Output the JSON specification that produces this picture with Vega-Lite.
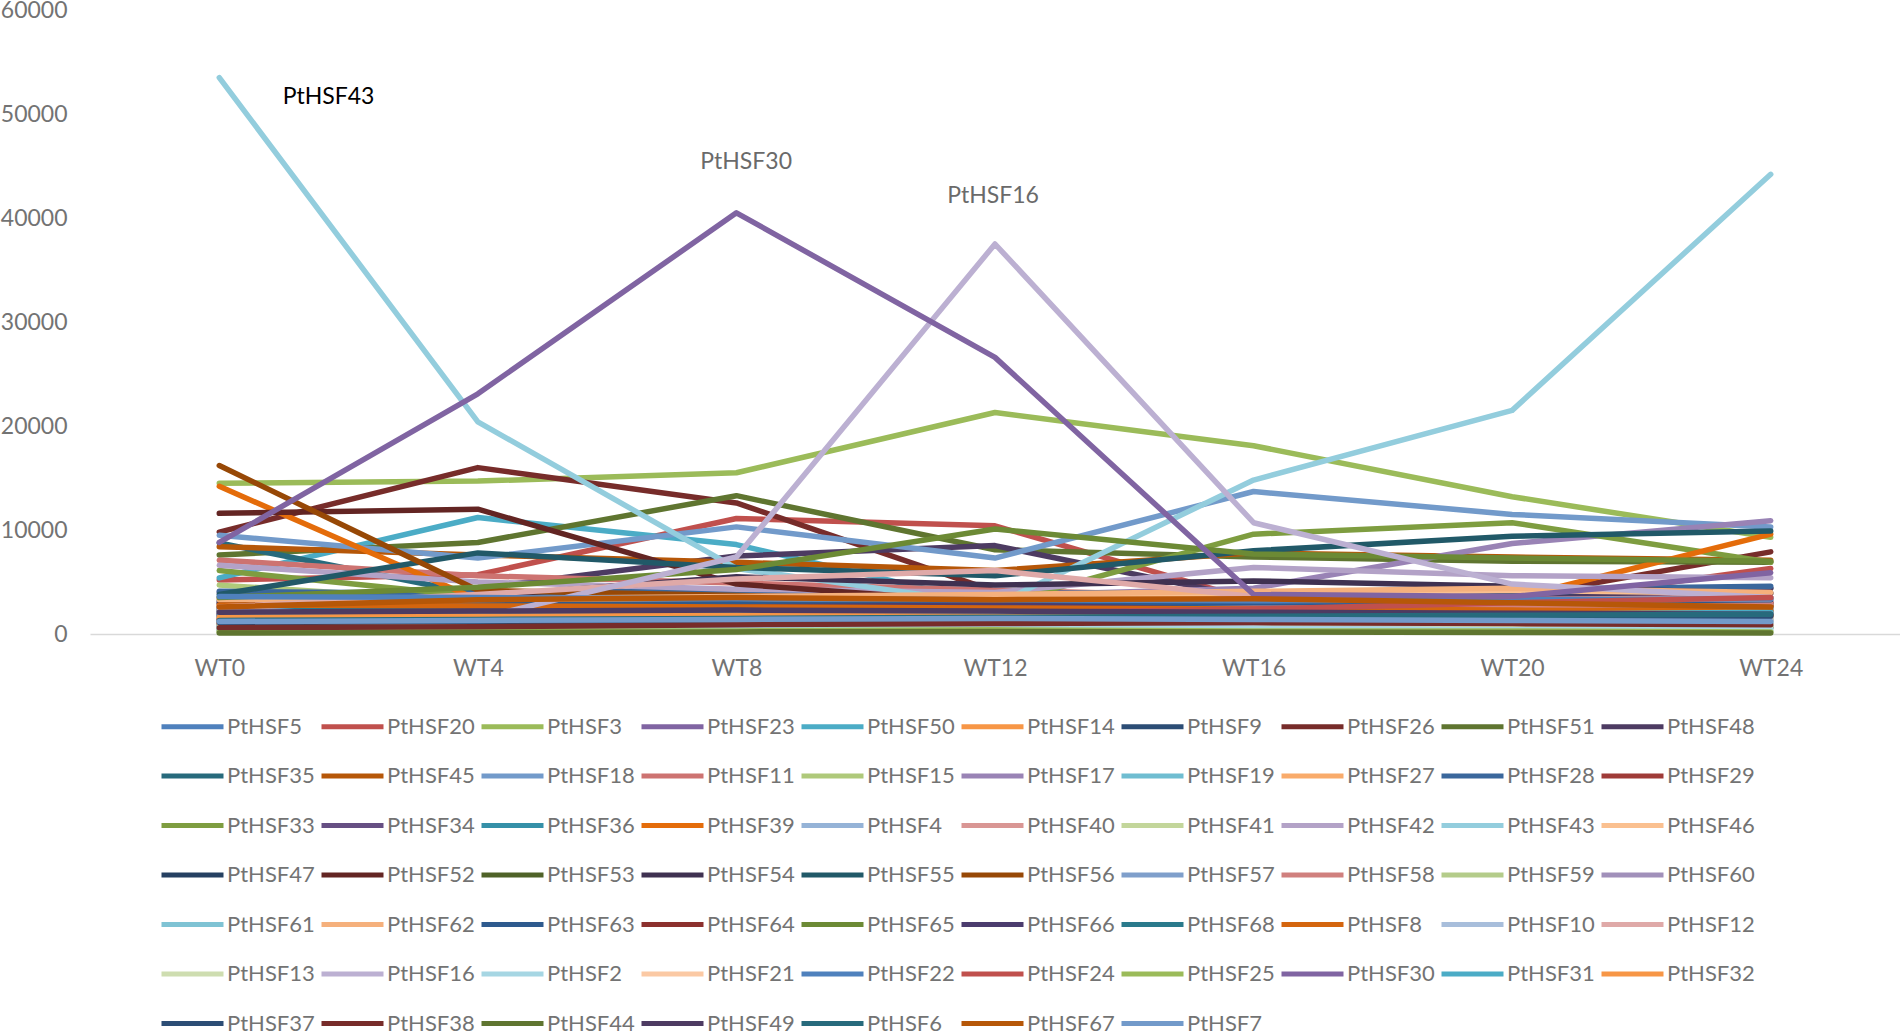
{
"$schema": "https://vega.github.io/schema/vega-lite/v6.json",
"width": 1810,
"height": 624,
"autosize": {"type": "none"},
"padding": {"left": 90, "top": 10, "right": 0, "bottom": 399},
"background": "white",
"config": {"view": {"stroke": null}, "font": "Lato"},
"datasets": {
"series": [
{"s":"PtHSF5","h":0,"v":2500},{"s":"PtHSF5","h":4,"v":2200},{"s":"PtHSF5","h":8,"v":2000},{"s":"PtHSF5","h":12,"v":1800},{"s":"PtHSF5","h":16,"v":1900},{"s":"PtHSF5","h":20,"v":2000},{"s":"PtHSF5","h":24,"v":2100},
{"s":"PtHSF20","h":0,"v":5200},{"s":"PtHSF20","h":4,"v":5700},{"s":"PtHSF20","h":8,"v":11100},{"s":"PtHSF20","h":12,"v":10400},{"s":"PtHSF20","h":16,"v":3200},{"s":"PtHSF20","h":20,"v":2900},{"s":"PtHSF20","h":24,"v":6300},
{"s":"PtHSF3","h":0,"v":14500},{"s":"PtHSF3","h":4,"v":14700},{"s":"PtHSF3","h":8,"v":15500},{"s":"PtHSF3","h":12,"v":21300},{"s":"PtHSF3","h":16,"v":18100},{"s":"PtHSF3","h":20,"v":13200},{"s":"PtHSF3","h":24,"v":9300},
{"s":"PtHSF23","h":0,"v":900},{"s":"PtHSF23","h":4,"v":1100},{"s":"PtHSF23","h":8,"v":1300},{"s":"PtHSF23","h":12,"v":1500},{"s":"PtHSF23","h":16,"v":1800},{"s":"PtHSF23","h":20,"v":2300},{"s":"PtHSF23","h":24,"v":3000},
{"s":"PtHSF50","h":0,"v":5400},{"s":"PtHSF50","h":4,"v":11200},{"s":"PtHSF50","h":8,"v":8600},{"s":"PtHSF50","h":12,"v":2800},{"s":"PtHSF50","h":16,"v":2500},{"s":"PtHSF50","h":20,"v":2400},{"s":"PtHSF50","h":24,"v":4000},
{"s":"PtHSF14","h":0,"v":1000},{"s":"PtHSF14","h":4,"v":1100},{"s":"PtHSF14","h":8,"v":1300},{"s":"PtHSF14","h":12,"v":1200},{"s":"PtHSF14","h":16,"v":1300},{"s":"PtHSF14","h":20,"v":1500},{"s":"PtHSF14","h":24,"v":1600},
{"s":"PtHSF9","h":0,"v":3200},{"s":"PtHSF9","h":4,"v":3300},{"s":"PtHSF9","h":8,"v":3500},{"s":"PtHSF9","h":12,"v":3300},{"s":"PtHSF9","h":16,"v":3600},{"s":"PtHSF9","h":20,"v":3700},{"s":"PtHSF9","h":24,"v":4400},
{"s":"PtHSF26","h":0,"v":9800},{"s":"PtHSF26","h":4,"v":16000},{"s":"PtHSF26","h":8,"v":12600},{"s":"PtHSF26","h":12,"v":4100},{"s":"PtHSF26","h":16,"v":3400},{"s":"PtHSF26","h":20,"v":3500},{"s":"PtHSF26","h":24,"v":7900},
{"s":"PtHSF51","h":0,"v":7600},{"s":"PtHSF51","h":4,"v":8800},{"s":"PtHSF51","h":8,"v":13300},{"s":"PtHSF51","h":12,"v":8100},{"s":"PtHSF51","h":16,"v":7400},{"s":"PtHSF51","h":20,"v":7000},{"s":"PtHSF51","h":24,"v":6900},
{"s":"PtHSF48","h":0,"v":1700},{"s":"PtHSF48","h":4,"v":4400},{"s":"PtHSF48","h":8,"v":7500},{"s":"PtHSF48","h":12,"v":8500},{"s":"PtHSF48","h":16,"v":3400},{"s":"PtHSF48","h":20,"v":3300},{"s":"PtHSF48","h":24,"v":4400},
{"s":"PtHSF35","h":0,"v":8750},{"s":"PtHSF35","h":4,"v":3800},{"s":"PtHSF35","h":8,"v":3500},{"s":"PtHSF35","h":12,"v":3200},{"s":"PtHSF35","h":16,"v":3100},{"s":"PtHSF35","h":20,"v":3000},{"s":"PtHSF35","h":24,"v":2900},
{"s":"PtHSF45","h":0,"v":8400},{"s":"PtHSF45","h":4,"v":7600},{"s":"PtHSF45","h":8,"v":6900},{"s":"PtHSF45","h":12,"v":6100},{"s":"PtHSF45","h":16,"v":7800},{"s":"PtHSF45","h":20,"v":7400},{"s":"PtHSF45","h":24,"v":7100},
{"s":"PtHSF18","h":0,"v":9500},{"s":"PtHSF18","h":4,"v":7300},{"s":"PtHSF18","h":8,"v":10300},{"s":"PtHSF18","h":12,"v":7300},{"s":"PtHSF18","h":16,"v":13700},{"s":"PtHSF18","h":20,"v":11500},{"s":"PtHSF18","h":24,"v":10300},
{"s":"PtHSF11","h":0,"v":7100},{"s":"PtHSF11","h":4,"v":5600},{"s":"PtHSF11","h":8,"v":4900},{"s":"PtHSF11","h":12,"v":4200},{"s":"PtHSF11","h":16,"v":3600},{"s":"PtHSF11","h":20,"v":3300},{"s":"PtHSF11","h":24,"v":3100},
{"s":"PtHSF15","h":0,"v":4700},{"s":"PtHSF15","h":4,"v":3100},{"s":"PtHSF15","h":8,"v":2600},{"s":"PtHSF15","h":12,"v":2300},{"s":"PtHSF15","h":16,"v":2000},{"s":"PtHSF15","h":20,"v":1800},{"s":"PtHSF15","h":24,"v":1700},
{"s":"PtHSF17","h":0,"v":4000},{"s":"PtHSF17","h":4,"v":3500},{"s":"PtHSF17","h":8,"v":4100},{"s":"PtHSF17","h":12,"v":3700},{"s":"PtHSF17","h":16,"v":4400},{"s":"PtHSF17","h":20,"v":8700},{"s":"PtHSF17","h":24,"v":10900},
{"s":"PtHSF19","h":0,"v":2000},{"s":"PtHSF19","h":4,"v":1800},{"s":"PtHSF19","h":8,"v":1900},{"s":"PtHSF19","h":12,"v":2100},{"s":"PtHSF19","h":16,"v":2200},{"s":"PtHSF19","h":20,"v":2100},{"s":"PtHSF19","h":24,"v":2000},
{"s":"PtHSF27","h":0,"v":2300},{"s":"PtHSF27","h":4,"v":2500},{"s":"PtHSF27","h":8,"v":2700},{"s":"PtHSF27","h":12,"v":2600},{"s":"PtHSF27","h":16,"v":2900},{"s":"PtHSF27","h":20,"v":3000},{"s":"PtHSF27","h":24,"v":2800},
{"s":"PtHSF28","h":0,"v":4100},{"s":"PtHSF28","h":4,"v":3900},{"s":"PtHSF28","h":8,"v":4200},{"s":"PtHSF28","h":12,"v":3900},{"s":"PtHSF28","h":16,"v":4000},{"s":"PtHSF28","h":20,"v":4300},{"s":"PtHSF28","h":24,"v":4600},
{"s":"PtHSF29","h":0,"v":1500},{"s":"PtHSF29","h":4,"v":1700},{"s":"PtHSF29","h":8,"v":1900},{"s":"PtHSF29","h":12,"v":2000},{"s":"PtHSF29","h":16,"v":2200},{"s":"PtHSF29","h":20,"v":2500},{"s":"PtHSF29","h":24,"v":3000},
{"s":"PtHSF33","h":0,"v":6100},{"s":"PtHSF33","h":4,"v":3600},{"s":"PtHSF33","h":8,"v":3000},{"s":"PtHSF33","h":12,"v":2800},{"s":"PtHSF33","h":16,"v":9600},{"s":"PtHSF33","h":20,"v":10700},{"s":"PtHSF33","h":24,"v":6900},
{"s":"PtHSF34","h":0,"v":2900},{"s":"PtHSF34","h":4,"v":3100},{"s":"PtHSF34","h":8,"v":3200},{"s":"PtHSF34","h":12,"v":3000},{"s":"PtHSF34","h":16,"v":3100},{"s":"PtHSF34","h":20,"v":3300},{"s":"PtHSF34","h":24,"v":3500},
{"s":"PtHSF36","h":0,"v":800},{"s":"PtHSF36","h":4,"v":900},{"s":"PtHSF36","h":8,"v":1000},{"s":"PtHSF36","h":12,"v":1100},{"s":"PtHSF36","h":16,"v":1200},{"s":"PtHSF36","h":20,"v":1300},{"s":"PtHSF36","h":24,"v":1400},
{"s":"PtHSF39","h":0,"v":14200},{"s":"PtHSF39","h":4,"v":3300},{"s":"PtHSF39","h":8,"v":3200},{"s":"PtHSF39","h":12,"v":3000},{"s":"PtHSF39","h":16,"v":3100},{"s":"PtHSF39","h":20,"v":3400},{"s":"PtHSF39","h":24,"v":9600},
{"s":"PtHSF4","h":0,"v":1800},{"s":"PtHSF4","h":4,"v":1600},{"s":"PtHSF4","h":8,"v":1500},{"s":"PtHSF4","h":12,"v":1400},{"s":"PtHSF4","h":16,"v":1300},{"s":"PtHSF4","h":20,"v":1200},{"s":"PtHSF4","h":24,"v":1100},
{"s":"PtHSF40","h":0,"v":3500},{"s":"PtHSF40","h":4,"v":3300},{"s":"PtHSF40","h":8,"v":3000},{"s":"PtHSF40","h":12,"v":2700},{"s":"PtHSF40","h":16,"v":2900},{"s":"PtHSF40","h":20,"v":3300},{"s":"PtHSF40","h":24,"v":3500},
{"s":"PtHSF41","h":0,"v":600},{"s":"PtHSF41","h":4,"v":700},{"s":"PtHSF41","h":8,"v":800},{"s":"PtHSF41","h":12,"v":900},{"s":"PtHSF41","h":16,"v":900},{"s":"PtHSF41","h":20,"v":800},{"s":"PtHSF41","h":24,"v":700},
{"s":"PtHSF42","h":0,"v":6600},{"s":"PtHSF42","h":4,"v":5000},{"s":"PtHSF42","h":8,"v":4300},{"s":"PtHSF42","h":12,"v":4000},{"s":"PtHSF42","h":16,"v":6400},{"s":"PtHSF42","h":20,"v":5600},{"s":"PtHSF42","h":24,"v":5400},
{"s":"PtHSF43","h":0,"v":53500},{"s":"PtHSF43","h":4,"v":20400},{"s":"PtHSF43","h":8,"v":6300},{"s":"PtHSF43","h":12,"v":2800},{"s":"PtHSF43","h":16,"v":14800},{"s":"PtHSF43","h":20,"v":21500},{"s":"PtHSF43","h":24,"v":44200},
{"s":"PtHSF46","h":0,"v":2700},{"s":"PtHSF46","h":4,"v":3000},{"s":"PtHSF46","h":8,"v":3200},{"s":"PtHSF46","h":12,"v":3500},{"s":"PtHSF46","h":16,"v":3800},{"s":"PtHSF46","h":20,"v":4200},{"s":"PtHSF46","h":24,"v":3900},
{"s":"PtHSF47","h":0,"v":2200},{"s":"PtHSF47","h":4,"v":2400},{"s":"PtHSF47","h":8,"v":2600},{"s":"PtHSF47","h":12,"v":2500},{"s":"PtHSF47","h":16,"v":2400},{"s":"PtHSF47","h":20,"v":2300},{"s":"PtHSF47","h":24,"v":2500},
{"s":"PtHSF52","h":0,"v":11600},{"s":"PtHSF52","h":4,"v":12000},{"s":"PtHSF52","h":8,"v":4800},{"s":"PtHSF52","h":12,"v":3000},{"s":"PtHSF52","h":16,"v":2800},{"s":"PtHSF52","h":20,"v":2600},{"s":"PtHSF52","h":24,"v":2700},
{"s":"PtHSF53","h":0,"v":400},{"s":"PtHSF53","h":4,"v":500},{"s":"PtHSF53","h":8,"v":600},{"s":"PtHSF53","h":12,"v":700},{"s":"PtHSF53","h":16,"v":800},{"s":"PtHSF53","h":20,"v":700},{"s":"PtHSF53","h":24,"v":600},
{"s":"PtHSF54","h":0,"v":3000},{"s":"PtHSF54","h":4,"v":3600},{"s":"PtHSF54","h":8,"v":5500},{"s":"PtHSF54","h":12,"v":4700},{"s":"PtHSF54","h":16,"v":5100},{"s":"PtHSF54","h":20,"v":4600},{"s":"PtHSF54","h":24,"v":3900},
{"s":"PtHSF55","h":0,"v":3800},{"s":"PtHSF55","h":4,"v":7800},{"s":"PtHSF55","h":8,"v":6400},{"s":"PtHSF55","h":12,"v":5600},{"s":"PtHSF55","h":16,"v":8000},{"s":"PtHSF55","h":20,"v":9400},{"s":"PtHSF55","h":24,"v":9900},
{"s":"PtHSF56","h":0,"v":16200},{"s":"PtHSF56","h":4,"v":4200},{"s":"PtHSF56","h":8,"v":3700},{"s":"PtHSF56","h":12,"v":3200},{"s":"PtHSF56","h":16,"v":3000},{"s":"PtHSF56","h":20,"v":2800},{"s":"PtHSF56","h":24,"v":2700},
{"s":"PtHSF57","h":0,"v":1300},{"s":"PtHSF57","h":4,"v":1200},{"s":"PtHSF57","h":8,"v":1100},{"s":"PtHSF57","h":12,"v":1000},{"s":"PtHSF57","h":16,"v":1100},{"s":"PtHSF57","h":20,"v":1200},{"s":"PtHSF57","h":24,"v":1300},
{"s":"PtHSF58","h":0,"v":1900},{"s":"PtHSF58","h":4,"v":2100},{"s":"PtHSF58","h":8,"v":2300},{"s":"PtHSF58","h":12,"v":2400},{"s":"PtHSF58","h":16,"v":2600},{"s":"PtHSF58","h":20,"v":2700},{"s":"PtHSF58","h":24,"v":2900},
{"s":"PtHSF59","h":0,"v":300},{"s":"PtHSF59","h":4,"v":300},{"s":"PtHSF59","h":8,"v":400},{"s":"PtHSF59","h":12,"v":400},{"s":"PtHSF59","h":16,"v":400},{"s":"PtHSF59","h":20,"v":300},{"s":"PtHSF59","h":24,"v":300},
{"s":"PtHSF60","h":0,"v":1600},{"s":"PtHSF60","h":4,"v":1400},{"s":"PtHSF60","h":8,"v":1500},{"s":"PtHSF60","h":12,"v":1700},{"s":"PtHSF60","h":16,"v":1900},{"s":"PtHSF60","h":20,"v":2000},{"s":"PtHSF60","h":24,"v":2200},
{"s":"PtHSF61","h":0,"v":700},{"s":"PtHSF61","h":4,"v":800},{"s":"PtHSF61","h":8,"v":900},{"s":"PtHSF61","h":12,"v":800},{"s":"PtHSF61","h":16,"v":900},{"s":"PtHSF61","h":20,"v":1000},{"s":"PtHSF61","h":24,"v":1100},
{"s":"PtHSF62","h":0,"v":3300},{"s":"PtHSF62","h":4,"v":3400},{"s":"PtHSF62","h":8,"v":3600},{"s":"PtHSF62","h":12,"v":3800},{"s":"PtHSF62","h":16,"v":4100},{"s":"PtHSF62","h":20,"v":4400},{"s":"PtHSF62","h":24,"v":4000},
{"s":"PtHSF63","h":0,"v":2600},{"s":"PtHSF63","h":4,"v":2800},{"s":"PtHSF63","h":8,"v":2900},{"s":"PtHSF63","h":12,"v":2800},{"s":"PtHSF63","h":16,"v":3000},{"s":"PtHSF63","h":20,"v":3100},{"s":"PtHSF63","h":24,"v":3300},
{"s":"PtHSF64","h":0,"v":1000},{"s":"PtHSF64","h":4,"v":1200},{"s":"PtHSF64","h":8,"v":1400},{"s":"PtHSF64","h":12,"v":1300},{"s":"PtHSF64","h":16,"v":1500},{"s":"PtHSF64","h":20,"v":1600},{"s":"PtHSF64","h":24,"v":1800},
{"s":"PtHSF65","h":0,"v":3500},{"s":"PtHSF65","h":4,"v":4500},{"s":"PtHSF65","h":8,"v":6200},{"s":"PtHSF65","h":12,"v":10100},{"s":"PtHSF65","h":16,"v":7700},{"s":"PtHSF65","h":20,"v":7300},{"s":"PtHSF65","h":24,"v":7000},
{"s":"PtHSF66","h":0,"v":1900},{"s":"PtHSF66","h":4,"v":2300},{"s":"PtHSF66","h":8,"v":2600},{"s":"PtHSF66","h":12,"v":2800},{"s":"PtHSF66","h":16,"v":2300},{"s":"PtHSF66","h":20,"v":2000},{"s":"PtHSF66","h":24,"v":1800},
{"s":"PtHSF68","h":0,"v":2400},{"s":"PtHSF68","h":4,"v":2300},{"s":"PtHSF68","h":8,"v":2200},{"s":"PtHSF68","h":12,"v":2100},{"s":"PtHSF68","h":16,"v":2000},{"s":"PtHSF68","h":20,"v":2100},{"s":"PtHSF68","h":24,"v":2300},
{"s":"PtHSF8","h":0,"v":2800},{"s":"PtHSF8","h":4,"v":2700},{"s":"PtHSF8","h":8,"v":2600},{"s":"PtHSF8","h":12,"v":2500},{"s":"PtHSF8","h":16,"v":2400},{"s":"PtHSF8","h":20,"v":2300},{"s":"PtHSF8","h":24,"v":2200},
{"s":"PtHSF10","h":0,"v":500},{"s":"PtHSF10","h":4,"v":600},{"s":"PtHSF10","h":8,"v":700},{"s":"PtHSF10","h":12,"v":800},{"s":"PtHSF10","h":16,"v":900},{"s":"PtHSF10","h":20,"v":800},{"s":"PtHSF10","h":24,"v":700},
{"s":"PtHSF12","h":0,"v":2600},{"s":"PtHSF12","h":4,"v":3800},{"s":"PtHSF12","h":8,"v":5300},{"s":"PtHSF12","h":12,"v":6100},{"s":"PtHSF12","h":16,"v":3600},{"s":"PtHSF12","h":20,"v":3200},{"s":"PtHSF12","h":24,"v":3400},
{"s":"PtHSF13","h":0,"v":900},{"s":"PtHSF13","h":4,"v":1000},{"s":"PtHSF13","h":8,"v":1200},{"s":"PtHSF13","h":12,"v":1300},{"s":"PtHSF13","h":16,"v":1100},{"s":"PtHSF13","h":20,"v":900},{"s":"PtHSF13","h":24,"v":800},
{"s":"PtHSF16","h":0,"v":2400},{"s":"PtHSF16","h":4,"v":1500},{"s":"PtHSF16","h":8,"v":7400},{"s":"PtHSF16","h":12,"v":37500},{"s":"PtHSF16","h":16,"v":10700},{"s":"PtHSF16","h":20,"v":4800},{"s":"PtHSF16","h":24,"v":3500},
{"s":"PtHSF2","h":0,"v":400},{"s":"PtHSF2","h":4,"v":400},{"s":"PtHSF2","h":8,"v":500},{"s":"PtHSF2","h":12,"v":600},{"s":"PtHSF2","h":16,"v":500},{"s":"PtHSF2","h":20,"v":400},{"s":"PtHSF2","h":24,"v":400},
{"s":"PtHSF21","h":0,"v":1100},{"s":"PtHSF21","h":4,"v":1300},{"s":"PtHSF21","h":8,"v":1500},{"s":"PtHSF21","h":12,"v":1600},{"s":"PtHSF21","h":16,"v":1500},{"s":"PtHSF21","h":20,"v":1400},{"s":"PtHSF21","h":24,"v":1300},
{"s":"PtHSF22","h":0,"v":3600},{"s":"PtHSF22","h":4,"v":3500},{"s":"PtHSF22","h":8,"v":3400},{"s":"PtHSF22","h":12,"v":3300},{"s":"PtHSF22","h":16,"v":3200},{"s":"PtHSF22","h":20,"v":3300},{"s":"PtHSF22","h":24,"v":3400},
{"s":"PtHSF24","h":0,"v":1400},{"s":"PtHSF24","h":4,"v":1600},{"s":"PtHSF24","h":8,"v":1800},{"s":"PtHSF24","h":12,"v":2000},{"s":"PtHSF24","h":16,"v":2400},{"s":"PtHSF24","h":20,"v":3000},{"s":"PtHSF24","h":24,"v":3500},
{"s":"PtHSF25","h":0,"v":200},{"s":"PtHSF25","h":4,"v":300},{"s":"PtHSF25","h":8,"v":300},{"s":"PtHSF25","h":12,"v":400},{"s":"PtHSF25","h":16,"v":300},{"s":"PtHSF25","h":20,"v":300},{"s":"PtHSF25","h":24,"v":200},
{"s":"PtHSF30","h":0,"v":8800},{"s":"PtHSF30","h":4,"v":23100},{"s":"PtHSF30","h":8,"v":40500},{"s":"PtHSF30","h":12,"v":26600},{"s":"PtHSF30","h":16,"v":3800},{"s":"PtHSF30","h":20,"v":3600},{"s":"PtHSF30","h":24,"v":5900},
{"s":"PtHSF31","h":0,"v":1700},{"s":"PtHSF31","h":4,"v":1900},{"s":"PtHSF31","h":8,"v":2000},{"s":"PtHSF31","h":12,"v":1800},{"s":"PtHSF31","h":16,"v":1700},{"s":"PtHSF31","h":20,"v":1900},{"s":"PtHSF31","h":24,"v":2100},
{"s":"PtHSF32","h":0,"v":1600},{"s":"PtHSF32","h":4,"v":1700},{"s":"PtHSF32","h":8,"v":1800},{"s":"PtHSF32","h":12,"v":1700},{"s":"PtHSF32","h":16,"v":1600},{"s":"PtHSF32","h":20,"v":1700},{"s":"PtHSF32","h":24,"v":1800},
{"s":"PtHSF37","h":0,"v":1100},{"s":"PtHSF37","h":4,"v":1200},{"s":"PtHSF37","h":8,"v":1300},{"s":"PtHSF37","h":12,"v":1400},{"s":"PtHSF37","h":16,"v":1500},{"s":"PtHSF37","h":20,"v":1600},{"s":"PtHSF37","h":24,"v":1700},
{"s":"PtHSF38","h":0,"v":600},{"s":"PtHSF38","h":4,"v":700},{"s":"PtHSF38","h":8,"v":900},{"s":"PtHSF38","h":12,"v":1000},{"s":"PtHSF38","h":16,"v":1100},{"s":"PtHSF38","h":20,"v":1000},{"s":"PtHSF38","h":24,"v":900},
{"s":"PtHSF44","h":0,"v":100},{"s":"PtHSF44","h":4,"v":150},{"s":"PtHSF44","h":8,"v":200},{"s":"PtHSF44","h":12,"v":250},{"s":"PtHSF44","h":16,"v":200},{"s":"PtHSF44","h":20,"v":150},{"s":"PtHSF44","h":24,"v":100},
{"s":"PtHSF49","h":0,"v":2100},{"s":"PtHSF49","h":4,"v":2200},{"s":"PtHSF49","h":8,"v":2300},{"s":"PtHSF49","h":12,"v":2200},{"s":"PtHSF49","h":16,"v":2100},{"s":"PtHSF49","h":20,"v":2000},{"s":"PtHSF49","h":24,"v":1900},
{"s":"PtHSF6","h":0,"v":1300},{"s":"PtHSF6","h":4,"v":1400},{"s":"PtHSF6","h":8,"v":1500},{"s":"PtHSF6","h":12,"v":1600},{"s":"PtHSF6","h":16,"v":1700},{"s":"PtHSF6","h":20,"v":1800},{"s":"PtHSF6","h":24,"v":1900},
{"s":"PtHSF67","h":0,"v":2600},{"s":"PtHSF67","h":4,"v":3300},{"s":"PtHSF67","h":8,"v":3500},{"s":"PtHSF67","h":12,"v":3300},{"s":"PtHSF67","h":16,"v":3400},{"s":"PtHSF67","h":20,"v":3000},{"s":"PtHSF67","h":24,"v":2600},
{"s":"PtHSF7","h":0,"v":1200},{"s":"PtHSF7","h":4,"v":1300},{"s":"PtHSF7","h":8,"v":1400},{"s":"PtHSF7","h":12,"v":1500},{"s":"PtHSF7","h":16,"v":1400},{"s":"PtHSF7","h":20,"v":1300},{"s":"PtHSF7","h":24,"v":1200}
],
"labelBlack": [{"label":"PtHSF43","h":1.69,"v":51600}],
"labelGray": [{"label":"PtHSF30","h":8.15,"v":45400},{"label":"PtHSF16","h":11.97,"v":42100}]
},
"layer": [
{
"data": {"name": "series"},
"mark": {"type": "line", "strokeWidth": 5.5, "strokeCap": "round", "strokeJoin": "round"},
"encoding": {
"x": {"field": "h", "type": "quantitative",
 "scale": {"domain": [-2, 26], "nice": false, "zero": false},
 "axis": {"title": null, "values": [0,4,8,12,16,20,24], "labelExpr": "'WT' + datum.value", "grid": false, "ticks": false, "domain": true, "domainColor": "#d9d9d9", "domainWidth": 1.5, "labelPadding": 23, "labelFontSize": 23, "labelFont": "Lato", "labelColor": "#737373"}},
"y": {"field": "v", "type": "quantitative",
 "scale": {"domain": [0, 60000], "nice": false},
 "axis": {"title": null, "values": [0,10000,20000,30000,40000,50000,60000], "format": "d", "grid": false, "ticks": false, "domain": false, "labelPadding": 23, "labelFontSize": 23, "labelFont": "Lato", "labelColor": "#737373"}},
"color": {"field": "s", "type": "nominal",
 "scale": {
  "domain": ["PtHSF5","PtHSF20","PtHSF3","PtHSF23","PtHSF50","PtHSF14","PtHSF9","PtHSF26","PtHSF51","PtHSF48","PtHSF35","PtHSF45","PtHSF18","PtHSF11","PtHSF15","PtHSF17","PtHSF19","PtHSF27","PtHSF28","PtHSF29","PtHSF33","PtHSF34","PtHSF36","PtHSF39","PtHSF4","PtHSF40","PtHSF41","PtHSF42","PtHSF43","PtHSF46","PtHSF47","PtHSF52","PtHSF53","PtHSF54","PtHSF55","PtHSF56","PtHSF57","PtHSF58","PtHSF59","PtHSF60","PtHSF61","PtHSF62","PtHSF63","PtHSF64","PtHSF65","PtHSF66","PtHSF68","PtHSF8","PtHSF10","PtHSF12","PtHSF13","PtHSF16","PtHSF2","PtHSF21","PtHSF22","PtHSF24","PtHSF25","PtHSF30","PtHSF31","PtHSF32","PtHSF37","PtHSF38","PtHSF44","PtHSF49","PtHSF6","PtHSF67","PtHSF7"],
  "range": ["#4F81BD","#C0504D","#9BBB59","#8064A2","#4BACC6","#F79646","#2C4D75","#772C2A","#5F7530","#4D3B62","#276A7C","#B65708","#729ACA","#CD7371","#AFC97A","#9983B5","#6FBDD1","#F9AB6B","#3A679C","#9F3B38","#7E9D40","#664F83","#3590A8","#E46C0A","#95B3D7","#D99694","#C3D69B","#B3A2C7","#93CDDD","#FAC090","#254061","#632523","#4F6228","#3F3151","#215968","#974806","#7F9FCB","#D0807E","#B4CC8A","#A190BA","#7FC3D4","#F5B07C","#2E5A8E","#8C302E","#6C8A35","#4B3C6E","#2A7A8C","#D4650E","#A8BEDB","#DFA9A8","#CEDDB0","#BCB0D2","#A6D6E3","#FBC9A4","#4F81BD","#C0504D","#9BBB59","#8064A2","#4BACC6","#F79646","#2C4D75","#772C2A","#5F7530","#4D3B62","#276A7C","#B65708","#729ACA"]
 },
 "legend": {"title": null, "orient": "none", "direction": "horizontal", "legendX": 69, "legendY": 683, "columns": 10, "gridAlign": "all", "symbolType": "stroke", "symbolSize": 3844, "symbolStrokeWidth": 5, "labelFontSize": 22, "labelFont": "Lato", "labelColor": "#737373", "labelOffset": 1, "rowPadding": 4.5, "columnPadding": -4, "labelLimit": 300, "symbolLimit": 100, "padding": 0}}
}
},
{
"data": {"name": "labelBlack"},
"mark": {"type": "text", "color": "#000000", "fontSize": 23, "font": "Lato"},
"encoding": {"x": {"field": "h", "type": "quantitative"}, "y": {"field": "v", "type": "quantitative"}, "text": {"field": "label"}}
},
{
"data": {"name": "labelGray"},
"mark": {"type": "text", "color": "#6a6a6a", "fontSize": 23, "font": "Lato"},
"encoding": {"x": {"field": "h", "type": "quantitative"}, "y": {"field": "v", "type": "quantitative"}, "text": {"field": "label"}}
}
]
}
